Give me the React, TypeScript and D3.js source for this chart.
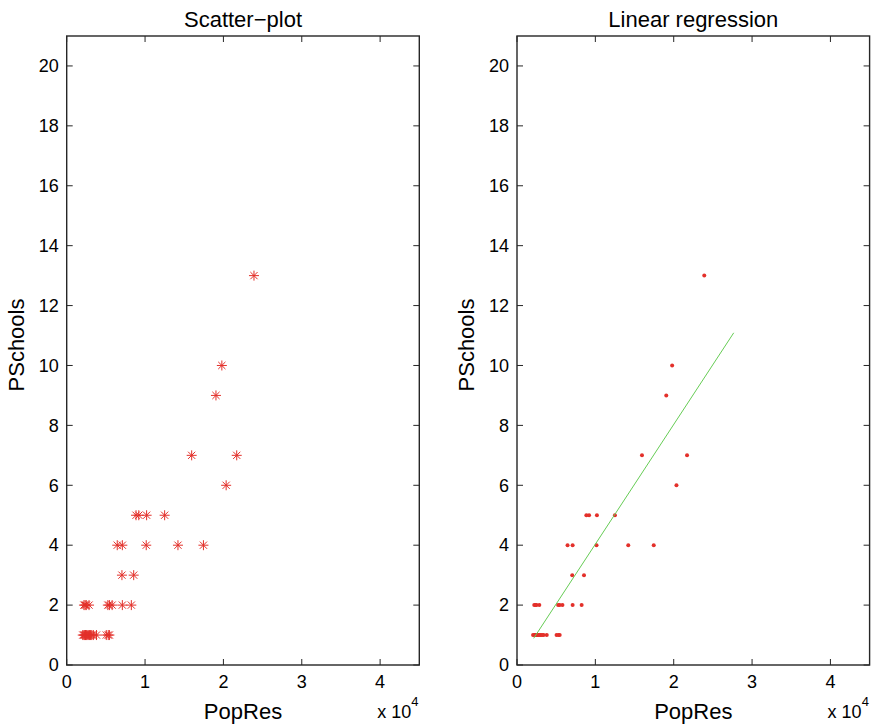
import React from "react";
import * as d3 from "d3";

// Data (PopRes in persons, PSchools count)
const popRes: number[] = [
  2050, 2200, 2300, 2400, 2500, 2600, 2750, 2900, 3050, 3200, 3400, 3800, 5050, 5300, 5450,
  2200, 2350, 2500, 2850, 5250, 5450, 5800, 7100, 8250,
  7050, 8550,
  6450, 7100, 10150, 14200, 17450,
  8850, 9200, 10200, 12500,
  20350,
  15950, 21700,
  19050,
  19800,
  23900,
];
const pSchools: number[] = [
  1, 1, 1, 1, 1, 1, 1, 1, 1, 1, 1, 1, 1, 1, 1,
  2, 2, 2, 2, 2, 2, 2, 2, 2,
  3, 3,
  4, 4, 4, 4, 4,
  5, 5, 5, 5,
  6,
  7, 7,
  9,
  10,
  13,
];
const fitIntercept = 0.04;
const fitSlope = 3.995e-4;
const fitRange: number[] = [2130, 27660];

const xTicks: number[] = [0, 10000, 20000, 30000, 40000];
const xTickLabels: string[] = ["0", "1", "2", "3", "4"];
const yTicks: number[] = [0, 2, 4, 6, 8, 10, 12, 14, 16, 18, 20];
const titles: string[] = ["Scatter\u2212plot", "Linear regression"];

const W = 879;
const H = 725;
const top = 36;
const bottom = 665;
const panelLefts = [66.7, 517];
const panelWidth = 352.6;
const font = "'Liberation Sans', Arial, Helvetica, sans-serif";
const axisColor = "#262626";
const red = "#e3302a";
const green = "#66cc55";
const tickLen = 6;

function starPath(cx: number, cy: number): string {
  const r = 5;
  const d = 3.6;
  return `M${cx - r},${cy}L${cx + r},${cy}M${cx},${cy - r}L${cx},${cy + r}` +
    `M${cx - d},${cy - d}L${cx + d},${cy + d}M${cx - d},${cy + d}L${cx + d},${cy - d}`;
}

function Panel({ idx }: { idx: number }) {
  const left = panelLefts[idx];
  const x = d3.scaleLinear().domain([0, 45000]).range([left, left + panelWidth]);
  const y = d3.scaleLinear().domain([0, 21]).range([bottom, top]);
  const right = left + panelWidth;
  const cxMid = (left + right) / 2;
  const line = d3.line<number>().x((v) => x(v)).y((v) => y(fitIntercept + fitSlope * v));
  return (
    <g>
      <text x={cxMid} y={27} textAnchor="middle" fontFamily={font} fontSize={22} fill="#000">
        {titles[idx]}
      </text>
      {/* ticks */}
      {xTicks.map((t, i) => (
        <g key={"xt" + i}>
          <line x1={x(t)} x2={x(t)} y1={bottom} y2={bottom - tickLen} stroke={axisColor} strokeWidth={1} />
          <line x1={x(t)} x2={x(t)} y1={top} y2={top + tickLen} stroke={axisColor} strokeWidth={1} />
          <text x={x(t)} y={688} textAnchor="middle" fontFamily={font} fontSize={18} fill="#000">
            {xTickLabels[i]}
          </text>
        </g>
      ))}
      {yTicks.map((t, i) => (
        <g key={"yt" + i}>
          <line x1={left} x2={left + tickLen} y1={y(t)} y2={y(t)} stroke={axisColor} strokeWidth={1} />
          <line x1={right} x2={right - tickLen} y1={y(t)} y2={y(t)} stroke={axisColor} strokeWidth={1} />
          <text x={left - 8} y={y(t)} dy="0.35em" textAnchor="end" fontFamily={font} fontSize={18} fill="#000">
            {t}
          </text>
        </g>
      ))}
      <rect x={left} y={top} width={panelWidth} height={bottom - top} fill="none" stroke={axisColor} strokeWidth={1.4} />
      {/* data */}
      {idx === 0
        ? popRes.map((v, i) => (
            <path key={"p" + i} d={starPath(x(v), y(pSchools[i]))} stroke={red} strokeWidth={1} fill="none" />
          ))
        : popRes.map((v, i) => <circle key={"p" + i} cx={x(v)} cy={y(pSchools[i])} r={2} fill={red} />)}
      {idx === 1 && <path d={line(fitRange) || ""} stroke={green} strokeWidth={1} fill="none" />}
      {/* labels */}
      <text x={cxMid} y={719} textAnchor="middle" fontFamily={font} fontSize={22} fill="#000">
        PopRes
      </text>
      <text
        transform={`translate(${left - 43},345) rotate(-90)`}
        textAnchor="middle"
        fontFamily={font}
        fontSize={22}
        fill="#000"
      >
        PSchools
      </text>
      <text x={right - 42} y={718} fontFamily={font} fontSize={18} fill="#000">
        x 10
        <tspan dy={-12} fontSize={13}>4</tspan>
      </text>
    </g>
  );
}

export default function App() {
  return (
    <svg width={W} height={H} style={{ position: "absolute", left: 0, top: 0, background: "#fff" }}>
      <rect x={0} y={0} width={W} height={H} fill="#fff" />
      <Panel idx={0} />
      <Panel idx={1} />
    </svg>
  );
}
